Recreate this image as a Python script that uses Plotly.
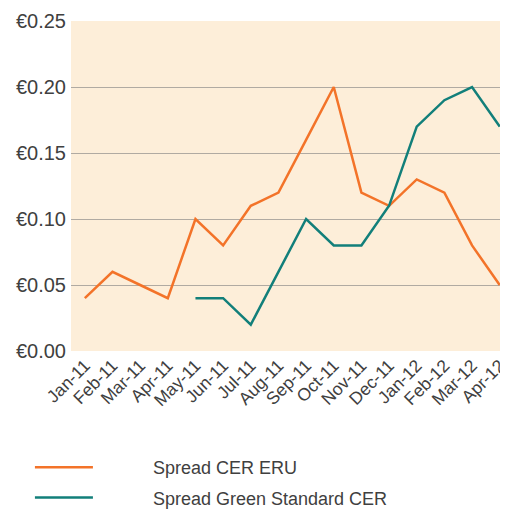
import plotly.graph_objects as go

months = ["Jan-11", "Feb-11", "Mar-11", "Apr-11", "May-11", "Jun-11", "Jul-11", "Aug-11",
          "Sep-11", "Oct-11", "Nov-11", "Dec-11", "Jan-12", "Feb-12", "Mar-12", "Apr-12"]
cer_eru = [0.04, 0.06, 0.05, 0.04, 0.10, 0.08, 0.11, 0.12, 0.16, 0.20, 0.12, 0.11, 0.13, 0.12, 0.08, 0.05]
green_std = [None, None, None, None, 0.04, 0.04, 0.02, 0.06, 0.10, 0.08, 0.08, 0.11, 0.17, 0.19, 0.20, 0.17]
y_ticks = [0.0, 0.05, 0.10, 0.15, 0.20, 0.25]
y_labels = ["€0.00", "€0.05", "€0.10", "€0.15", "€0.20", "€0.25"]
series_names = ["Spread CER ERU", "Spread Green Standard CER"]

pad = "\u00a0" * 11
font = "Liberation Sans"
fig = go.Figure()
fig.add_trace(go.Scatter(x=months, y=cer_eru, mode="lines", name=pad + series_names[0],
                         legendgroup="a",
                         line=dict(color="#f37329", width=2.5)))
fig.add_trace(go.Scatter(x=months, y=green_std, mode="lines", name=pad + series_names[1],
                         legendgroup="b",
                         line=dict(color="#127f7a", width=2.5), connectgaps=False))

fig.update_layout(
    width=500, height=502,
    margin=dict(l=63, r=0, t=13, b=159, autoexpand=False),
    paper_bgcolor="white", plot_bgcolor="#fdeed9",
    font=dict(family=font, color="#404040"),
    showlegend=True,
    legend=dict(x=-0.094, y=-0.297, xanchor="left", yanchor="top", orientation="v",
                font=dict(size=18, color="#404040"), itemwidth=58, tracegroupgap=4,
                bgcolor="rgba(0,0,0,0)"),
    xaxis=dict(type="category", range=[-0.5, 15.3], tickangle=-45, showgrid=False,
               tickfont=dict(size=17.5, color="#404040"), ticks="", zeroline=False,
               showline=False, automargin=False),
    yaxis=dict(range=[0, 0.25], tickvals=y_ticks, ticktext=y_labels, showgrid=True,
               gridcolor="#b0aaa2", gridwidth=1, zeroline=False, ticks="",
               tickfont=dict(size=20, color="#404040"), showline=False,
               automargin=False, ticklabelstandoff=4),
)
fig.write_html("out.html")
